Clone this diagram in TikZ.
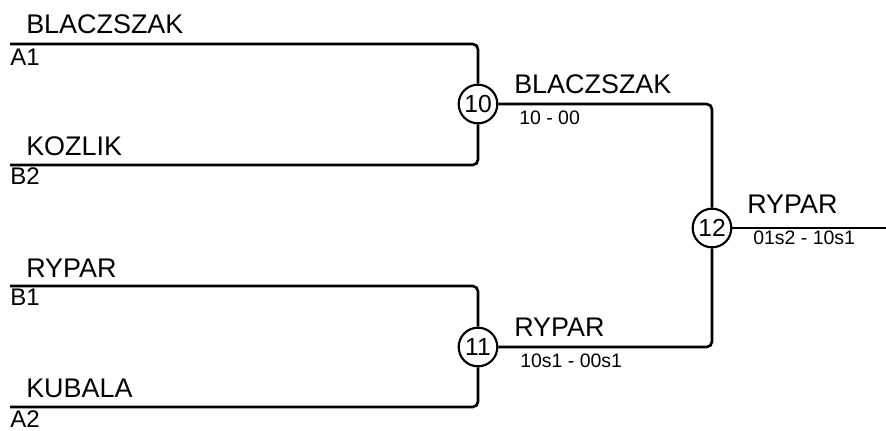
\documentclass[tikz,border=0pt]{standalone}
\usepackage{fontspec}
\setmainfont{Liberation Sans}
\begin{document}
\begin{tikzpicture}[x=0.75pt,y=-0.75pt,
  wire/.style={line width=2pt, rounded corners=4pt},
  matchnode/.style={circle, draw, line width=1.6pt, minimum size=29pt, inner sep=0pt, font=\fontsize{18.5}{18.5}\selectfont},
  pname/.style={anchor=base west, inner sep=0pt, font=\fontsize{20.2}{20.2}\selectfont},
  seedlbl/.style={anchor=base west, inner sep=0pt, font=\fontsize{18}{18}\selectfont},
  scorelbl/.style={anchor=base west, inner sep=0pt, font=\fontsize{14.6}{14.6}\selectfont}]
\useasboundingbox (0,0) rectangle (886,430);
% matches
\node[matchnode] (m10) at (478,104) {10};
\node[matchnode] (m11) at (478,347) {11};
\node[matchnode] (m12) at (712,228) {12};
% start coordinates
\coordinate (a1) at (10,44);
\coordinate (b2) at (10,165);
\coordinate (b1) at (10,286);
\coordinate (a2) at (10,407);
\coordinate (out) at (886,228);
% wires
\draw[wire] (a1) -| (m10.north);
\draw[wire] (b2) -| (m10.south);
\draw[wire] (b1) -| (m11.north);
\draw[wire] (a2) -| (m11.south);
\draw[wire] (m10.east) -| (m12.north);
\draw[wire] (m11.east) -| (m12.south);
\draw[wire] (m12.east) -- (out);
% names
\node[pname] (n1) at (26,33) {BLACZSZAK};
\node[pname] (n2) at (26,155) {KOZLIK};
\node[pname] (n3) at (26,277) {RYPAR};
\node[pname] (n4) at (26,397) {KUBALA};
\node[seedlbl] (s1) at (10,65) {A1};
\node[seedlbl] (s2) at (10,184) {B2};
\node[seedlbl] (s3) at (10,305) {B1};
\node[seedlbl] (s4) at (10,427) {A2};
% winners
\node[pname] (w10) at (514,93) {BLACZSZAK};
\node[scorelbl] (r10) at (519,124) {10 - 00};
\node[pname] (w11) at (514,336) {RYPAR};
\node[scorelbl] (r11) at (520,367) {10s1 - 00s1};
\node[pname] (w12) at (747,213) {RYPAR};
\node[scorelbl] (r12) at (753,244) {01s2 - 10s1};
\end{tikzpicture}
\end{document}
